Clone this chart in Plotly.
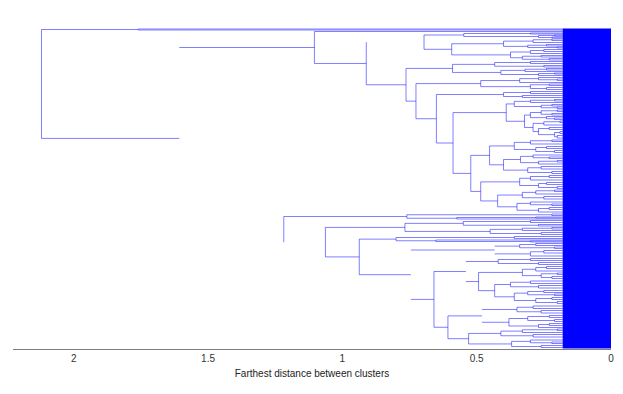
import plotly.graph_objects as go

# Dendrogram. A node is (height, upper, lower[, flags]);
# an int is a bundle of that many leaves, merged below BAND.
# flags: "v" = vertical link not drawn, "s" = link to parent not drawn
BAND = 0.18

A = (1.76, 1, 1)
E = 2

H1 = (0.548, (0.30, 1, 1), (0.27, (0.21, 1, 1), (0.22, 1, 1)))
H2a = (0.40, (0.29, (0.22, 1, 2), 2), (0.31, (0.24, 2, 1), (0.20, 1, 1)))
H2b = (0.374, (0.30, (0.25, 2, 2), 2), (0.33, (0.26, 2, 1), (0.23, 2, 1)))
H = (0.696, H1, (0.593, H2a, H2b), "s")

J1 = (0.59, (0.433, (0.30, 2, 2), (0.25, 2, 1)),
      (0.41, (0.32, (0.24, 2, 1), 2), (0.27, (0.21, 1, 1), 2)))
K1 = (0.485, (0.34, (0.27, 2, (0.20, 1, 2)), 2), (0.30, (0.23, 1, 2), (0.24, 2, 2)))
L1 = (0.40, (0.30, 2, 2), (0.33, 2, 2))
M1a = (0.36, (0.30, (0.21, 2, 1), 2), (0.26, (0.22, 2, 1), (0.20, 1, 2)))
M1b = (0.322, (0.30, (0.26, (0.20, 1, 2), (0.22, 2, 1)), (0.24, 2, (0.21, 1, 2))),
       (0.29, (0.25, (0.19, 1, 2), 3),
        (0.27, (0.23, 2, 2), (0.21, (0.19, 2, 2), (0.20, 2, 3)))))
O1 = (0.36, (0.30, (0.22, 1, 2), 3), (0.28, (0.24, 2, 2), (0.21, 2, 2)))
P = (0.40, (0.337, (0.29, 3, (0.23, 1, 2)), (0.27, (0.20, 2, 1), 3)),
     (0.31, (0.26, 2, 3), (0.22, 2, 2)))
Q1 = (0.34, (0.30, (0.23, 2, 2), 3), (0.27, (0.24, 2, 2), (0.20, 2, 2)))
S = (0.422, (0.33, (0.28, (0.21, 1, 2), 3), (0.25, 2, 3)),
     (0.35, (0.30, 3, (0.22, 1, 2)), (0.27, (0.23, 2, 2), 3)))
N = (0.522, (0.452, O1, P), (0.485, Q1, S))
M = (0.588, (0.39, M1a, M1b), N)
J = (0.763, J1, (0.726, K1, (0.65, L1, M)))
D = (1.104, E, (0.911, H, J))

X = (0.76, (0.22, 1, 2), (0.574, (0.28, 1, 1), 1))
U = (0.767, (0.55, (0.30, 2, 2), (0.27, 2, 1)),
     (0.45, (0.33, (0.22, 2, 1), 2), (0.26, 2, 2)))
W = (0.80, (0.36, 2, 2), (0.652, 1, (0.30, 1, 1)))
Z1 = (0.433, (0.34, (0.28, 2, 2), (0.21, 1, 2)), (0.30, (0.25, 2, 3), 3), "v")
Y1 = (0.54, (0.42, (0.30, 2, 2), (0.27, 2, 2)),
      (0.493, (0.33, (0.28, (0.24, 2, 2), 3), (0.26, (0.20, 1, 2), (0.22, 2, 2))),
       (0.433, (0.374, (0.30, 3, 2), (0.27, 2, 3)),
        (0.36, (0.31, (0.25, 2, 2), (0.21, 1, 2)), (0.28, (0.22, 2, 2), (0.20, 2, 2))))), "v")
Y2 = (0.607, (0.48, (0.35, (0.29, 3, 2), (0.26, 2, 3)),
              (0.38, (0.31, (0.23, 2, 2), (0.21, 2, 2)), (0.27, (0.23, 2, 2), 2)), "v"),
      (0.53, (0.41, (0.33, (0.20, 1, 2), 2), (0.29, 2, 3)),
       (0.37, (0.30, 3, (0.22, 1, 2)), (0.26, 2, 2))))
Z = (0.745, Z1, (0.659, Y1, Y2), "v")
C = (1.218, X, (1.063, U, (0.937, W, Z), "s"), "s")

ROOT = (2.12, A, (1.607, D, C, "v"))

LINE = "rgba(0,0,255,0.5)"


def place(node, row, links):
    """Lay leaves out top to bottom; return (y, height, flags, next_row)."""
    if isinstance(node, int):
        return row + (node - 1) / 2, BAND, "", row + node
    h, a, b = node[:3]
    flags = node[3] if len(node) > 3 else ""
    ya, ha, fa, row = place(a, row, links)
    yb, hb, fb, row = place(b, row, links)
    links.append((h, flags, ya, ha, fa, yb, hb, fb))
    return (ya + yb) / 2, h, flags, row


links = []
_, _, _, n_rows = place(ROOT, 0, links)

fig = go.Figure()

# the leaves are so dense near zero that they merge into a solid block
fig.add_trace(go.Scatter(
    x=[0, BAND, BAND, 0, 0], y=[-0.5, -0.5, n_rows - 0.5, n_rows - 0.5, -0.5],
    mode="lines", fill="toself", fillcolor="#0000ff", line=dict(width=0),
    hoverinfo="skip", showlegend=False,
))

for h, flags, ya, ha, fa, yb, hb, fb in links:
    xs, ys = [], []
    if "s" not in fa:
        xs += [ha, h]
        ys += [ya, ya]
    else:
        xs += [h]
        ys += [ya]
    if "v" in flags:
        xs += [None, h]
        ys += [None, yb]
    else:
        xs += [h]
        ys += [yb]
    if "s" not in fb:
        xs += [hb]
        ys += [yb]
    fig.add_trace(go.Scatter(
        x=xs, y=ys, mode="lines", line=dict(color=LINE, width=1),
        hoverinfo="skip", showlegend=False,
    ))

fig.update_layout(
    width=623, height=394,
    margin=dict(l=13, r=9, t=28, b=45),
    plot_bgcolor="white", paper_bgcolor="white",
    font=dict(family="Liberation Sans, Arial, sans-serif", size=10, color="#333333"),
)
fig.update_xaxes(
    range=[2.226, 0], tickvals=[2, 1.5, 1, 0.5, 0], ticktext=["2", "1.5", "1", "0.5", "0"],
    showgrid=False, zeroline=False, showline=True, linecolor="#7f7f7f", linewidth=1,
    ticks="", tickfont=dict(size=10, color="#333333"),
    title=dict(text="Farthest distance between clusters", font=dict(size=10, color="#222222"), standoff=6),
)
fig.update_yaxes(range=[n_rows, -1], visible=False, showgrid=False, zeroline=False)

# drop the page's default body margin so the figure sits at the window's corner
fig.write_html(
    "out.html",
    config={"displayModeBar": False},
    post_script="document.body.style.margin = '0';",
)
